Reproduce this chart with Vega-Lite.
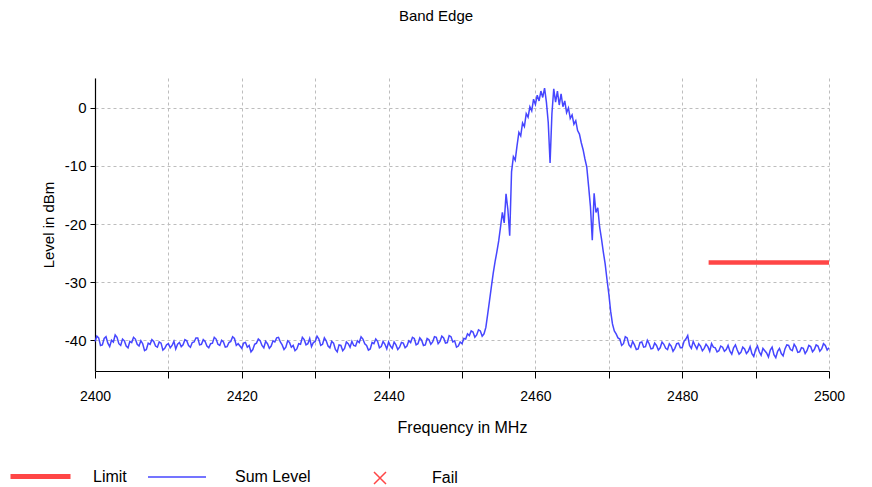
{
  "$schema": "https://vega.github.io/schema/vega-lite/v6.json",
  "width": 734,
  "height": 293,
  "autosize": {"type": "none"},
  "padding": {"left": 95, "top": 78, "right": 43, "bottom": 116},
  "background": "white",
  "title": {"text": "Band Edge", "anchor": "middle", "dx": -26, "offset": 54, "fontSize": 15, "fontWeight": "normal", "font": "Liberation Sans Narrow, Liberation Sans, Arial", "color": "#000000"},
  "config": {
    "view": {"stroke": null},
    "font": "Liberation Sans Narrow, Liberation Sans, Arial",
    "axis": {"domainColor": "#000000", "tickColor": "#000000", "labelColor": "#000000", "titleColor": "#000000", "labelFont": "Liberation Sans Narrow, Liberation Sans, Arial", "titleFont": "Liberation Sans Narrow, Liberation Sans, Arial", "titleFontWeight": "normal", "gridColor": "#bdbdbd", "gridDash": [3, 3], "gridWidth": 1, "domainWidth": 1.2},
    "legend": {"labelFontSize": 16, "labelColor": "#000000", "labelFont": "Liberation Sans Narrow, Liberation Sans, Arial", "padding": 0, "orient": "none"}
  },
  "resolve": {"scale": {"color": "independent"}, "legend": {"color": "independent"}},
  "datasets": {
    "trace": [
      {"f":2400.0,"v":-40.2},{"f":2400.25,"v":-39.3},{"f":2400.5,"v":-39.6},{"f":2400.75,"v":-40.9},{"f":2401.0,"v":-40.8},{"f":2401.25,"v":-39.7},{"f":2401.5,"v":-39.4},{"f":2401.75,"v":-40.5},{"f":2402.0,"v":-41.1},{"f":2402.25,"v":-40.0},
      {"f":2402.5,"v":-40.3},{"f":2402.75,"v":-39.1},{"f":2403.0,"v":-39.5},{"f":2403.25,"v":-40.6},{"f":2403.5,"v":-40.9},{"f":2403.75,"v":-39.8},{"f":2404.0,"v":-40.1},{"f":2404.25,"v":-41.0},{"f":2404.5,"v":-41.3},{"f":2404.75,"v":-40.2},
      {"f":2405.0,"v":-40.4},{"f":2405.25,"v":-39.5},{"f":2405.5,"v":-39.8},{"f":2405.75,"v":-40.7},{"f":2406.0,"v":-41.0},{"f":2406.25,"v":-40.1},{"f":2406.5,"v":-40.6},{"f":2406.75,"v":-41.8},{"f":2407.0,"v":-41.6},{"f":2407.25,"v":-40.5},
      {"f":2407.5,"v":-40.7},{"f":2407.75,"v":-39.9},{"f":2408.0,"v":-40.2},{"f":2408.25,"v":-41.0},{"f":2408.5,"v":-41.2},{"f":2408.75,"v":-40.3},{"f":2409.0,"v":-40.5},{"f":2409.25,"v":-41.7},{"f":2409.5,"v":-41.4},{"f":2409.75,"v":-40.8},
      {"f":2410.0,"v":-40.6},{"f":2410.25,"v":-41.3},{"f":2410.5,"v":-40.9},{"f":2410.75,"v":-40.2},{"f":2411.0,"v":-41.5},{"f":2411.25,"v":-40.7},{"f":2411.5,"v":-40.4},{"f":2411.75,"v":-41.1},{"f":2412.0,"v":-40.8},{"f":2412.25,"v":-39.9},
      {"f":2412.5,"v":-40.1},{"f":2412.75,"v":-40.9},{"f":2413.0,"v":-41.2},{"f":2413.25,"v":-40.4},{"f":2413.5,"v":-40.3},{"f":2413.75,"v":-39.6},{"f":2414.0,"v":-39.6},{"f":2414.25,"v":-40.8},{"f":2414.5,"v":-40.7},{"f":2414.75,"v":-39.9},
      {"f":2415.0,"v":-40.2},{"f":2415.25,"v":-41.0},{"f":2415.5,"v":-41.3},{"f":2415.75,"v":-40.6},{"f":2416.0,"v":-40.5},{"f":2416.25,"v":-39.5},{"f":2416.5,"v":-39.8},{"f":2416.75,"v":-40.7},{"f":2417.0,"v":-40.9},{"f":2417.25,"v":-40.0},
      {"f":2417.5,"v":-40.3},{"f":2417.75,"v":-41.2},{"f":2418.0,"v":-41.1},{"f":2418.25,"v":-40.4},{"f":2418.5,"v":-40.2},{"f":2418.75,"v":-39.4},{"f":2419.0,"v":-39.7},{"f":2419.25,"v":-40.9},{"f":2419.5,"v":-40.6},{"f":2419.75,"v":-41.0},
      {"f":2420.0,"v":-41.4},{"f":2420.25,"v":-40.5},{"f":2420.5,"v":-40.4},{"f":2420.75,"v":-41.2},{"f":2421.0,"v":-40.9},{"f":2421.25,"v":-42.0},{"f":2421.5,"v":-41.6},{"f":2421.75,"v":-40.7},{"f":2422.0,"v":-40.5},{"f":2422.25,"v":-39.8},
      {"f":2422.5,"v":-40.1},{"f":2422.75,"v":-40.9},{"f":2423.0,"v":-41.3},{"f":2423.25,"v":-40.2},{"f":2423.5,"v":-40.6},{"f":2423.75,"v":-41.4},{"f":2424.0,"v":-41.0},{"f":2424.25,"v":-40.1},{"f":2424.5,"v":-40.3},{"f":2424.75,"v":-39.6},
      {"f":2425.0,"v":-39.5},{"f":2425.25,"v":-40.3},{"f":2425.5,"v":-40.8},{"f":2425.75,"v":-41.6},{"f":2426.0,"v":-41.2},{"f":2426.25,"v":-40.1},{"f":2426.5,"v":-40.4},{"f":2426.75,"v":-41.2},{"f":2427.0,"v":-40.9},{"f":2427.25,"v":-41.8},
      {"f":2427.5,"v":-41.5},{"f":2427.75,"v":-40.6},{"f":2428.0,"v":-40.7},{"f":2428.25,"v":-39.5},{"f":2428.5,"v":-39.9},{"f":2428.75,"v":-40.8},{"f":2429.0,"v":-40.6},{"f":2429.25,"v":-39.7},{"f":2429.5,"v":-41.1},{"f":2429.75,"v":-40.4},
      {"f":2430.0,"v":-40.2},{"f":2430.25,"v":-39.3},{"f":2430.5,"v":-39.8},{"f":2430.75,"v":-40.9},{"f":2431.0,"v":-40.7},{"f":2431.25,"v":-39.6},{"f":2431.5,"v":-40.1},{"f":2431.75,"v":-41.0},{"f":2432.0,"v":-41.3},{"f":2432.25,"v":-40.2},
      {"f":2432.5,"v":-40.5},{"f":2432.75,"v":-41.6},{"f":2433.0,"v":-42.0},{"f":2433.25,"v":-40.8},{"f":2433.5,"v":-40.9},{"f":2433.75,"v":-41.8},{"f":2434.0,"v":-41.4},{"f":2434.25,"v":-40.3},{"f":2434.5,"v":-40.6},{"f":2434.75,"v":-41.2},
      {"f":2435.0,"v":-40.2},{"f":2435.25,"v":-40.9},{"f":2435.5,"v":-41.0},{"f":2435.75,"v":-40.1},{"f":2436.0,"v":-40.4},{"f":2436.25,"v":-39.4},{"f":2436.5,"v":-39.8},{"f":2436.75,"v":-40.6},{"f":2437.0,"v":-40.9},{"f":2437.25,"v":-41.7},
      {"f":2437.5,"v":-41.5},{"f":2437.75,"v":-40.4},{"f":2438.0,"v":-40.6},{"f":2438.25,"v":-39.8},{"f":2438.5,"v":-40.2},{"f":2438.75,"v":-41.3},{"f":2439.0,"v":-41.1},{"f":2439.25,"v":-40.2},{"f":2439.5,"v":-40.7},{"f":2439.75,"v":-41.5},
      {"f":2440.0,"v":-40.3},{"f":2440.25,"v":-41.0},{"f":2440.5,"v":-41.4},{"f":2440.75,"v":-40.3},{"f":2441.0,"v":-40.8},{"f":2441.25,"v":-41.6},{"f":2441.5,"v":-41.2},{"f":2441.75,"v":-40.4},{"f":2442.0,"v":-40.5},{"f":2442.25,"v":-41.3},
      {"f":2442.5,"v":-41.0},{"f":2442.75,"v":-40.1},{"f":2443.0,"v":-40.4},{"f":2443.25,"v":-39.5},{"f":2443.5,"v":-39.7},{"f":2443.75,"v":-40.8},{"f":2444.0,"v":-40.6},{"f":2444.25,"v":-39.6},{"f":2444.5,"v":-40.0},{"f":2444.75,"v":-40.9},
      {"f":2445.0,"v":-40.8},{"f":2445.25,"v":-39.7},{"f":2445.5,"v":-39.9},{"f":2445.75,"v":-40.7},{"f":2446.0,"v":-40.3},{"f":2446.25,"v":-39.4},{"f":2446.5,"v":-39.5},{"f":2446.75,"v":-40.6},{"f":2447.0,"v":-40.2},{"f":2447.25,"v":-39.3},
      {"f":2447.5,"v":-39.6},{"f":2447.75,"v":-40.5},{"f":2448.0,"v":-40.4},{"f":2448.25,"v":-39.2},{"f":2448.5,"v":-39.4},{"f":2448.75,"v":-40.3},{"f":2449.0,"v":-40.1},{"f":2449.25,"v":-41.2},{"f":2449.5,"v":-41.0},{"f":2449.75,"v":-40.3},
      {"f":2450.0,"v":-40.6},{"f":2450.25,"v":-39.7},{"f":2450.5,"v":-39.8},{"f":2450.75,"v":-38.9},{"f":2451.0,"v":-39.2},{"f":2451.25,"v":-38.4},{"f":2451.5,"v":-38.6},{"f":2451.75,"v":-39.5},{"f":2452.0,"v":-39.1},{"f":2452.25,"v":-38.2},
      {"f":2452.5,"v":-38.4},{"f":2452.75,"v":-39.3},
      {"f":2453.0,"v":-38.9},{"f":2453.25,"v":-37.8},{"f":2453.5,"v":-35.5},{"f":2453.75,"v":-33.2},
      {"f":2454.0,"v":-30.8},{"f":2454.25,"v":-28.5},{"f":2454.5,"v":-26.5},{"f":2454.75,"v":-24.8},{"f":2455.0,"v":-22.9},{"f":2455.25,"v":-20.5},{"f":2455.5,"v":-18.0},{"f":2455.75,"v":-19.8},{"f":2456.0,"v":-14.8},{"f":2456.25,"v":-17.5},
      {"f":2456.5,"v":-22.0},{"f":2456.75,"v":-11.0},{"f":2457.0,"v":-8.4},{"f":2457.25,"v":-9.0},{"f":2457.5,"v":-6.5},{"f":2457.75,"v":-4.2},{"f":2458.0,"v":-4.8},{"f":2458.25,"v":-2.6},{"f":2458.5,"v":-3.2},{"f":2458.75,"v":-1.0},
      {"f":2459.0,"v":-1.6},{"f":2459.25,"v":0.2},{"f":2459.5,"v":-0.5},{"f":2459.75,"v":1.5},{"f":2460.0,"v":0.6},{"f":2460.25,"v":2.2},{"f":2460.5,"v":1.2},{"f":2460.75,"v":2.9},{"f":2461.0,"v":1.8},{"f":2461.25,"v":3.4},
      {"f":2461.5,"v":1.0},{"f":2461.75,"v":-2.5},{"f":2462.0,"v":-9.5},{"f":2462.25,"v":-1.0},{"f":2462.5,"v":3.3},{"f":2462.75,"v":1.0},{"f":2463.0,"v":2.9},{"f":2463.25,"v":0.5},{"f":2463.5,"v":2.4},{"f":2463.75,"v":0.2},
      {"f":2464.0,"v":1.2},{"f":2464.25,"v":-0.8},{"f":2464.5,"v":0.0},{"f":2464.75,"v":-1.8},{"f":2465.0,"v":-1.2},{"f":2465.25,"v":-2.8},{"f":2465.5,"v":-2.2},{"f":2465.75,"v":-3.9},{"f":2466.0,"v":-4.5},{"f":2466.25,"v":-6.0},
      {"f":2466.5,"v":-7.2},{"f":2466.75,"v":-8.8},{"f":2467.0,"v":-10.2},{"f":2467.25,"v":-13.5},{"f":2467.5,"v":-17.0},{"f":2467.75,"v":-22.8},{"f":2468.0,"v":-14.7},{"f":2468.25,"v":-18.0},{"f":2468.5,"v":-17.2},{"f":2468.75,"v":-20.5},
      {"f":2469.0,"v":-22.5},{"f":2469.25,"v":-24.8},{"f":2469.5,"v":-26.8},{"f":2469.75,"v":-29.5},{"f":2470.0,"v":-32.0},{"f":2470.25,"v":-35.0},{"f":2470.5,"v":-37.2},{"f":2470.75,"v":-38.4},{"f":2471.0,"v":-38.9},
      {"f":2471.25,"v":-39.6},{"f":2471.5,"v":-39.8},{"f":2471.75,"v":-40.9},
      {"f":2472.0,"v":-40.6},{"f":2472.25,"v":-39.4},{"f":2472.5,"v":-39.6},{"f":2472.75,"v":-40.8},{"f":2473.0,"v":-41.2},{"f":2473.25,"v":-40.2},{"f":2473.5,"v":-40.8},{"f":2473.75,"v":-41.6},{"f":2474.0,"v":-41.5},{"f":2474.25,"v":-40.4},
      {"f":2474.5,"v":-40.3},{"f":2474.75,"v":-41.2},{"f":2475.0,"v":-41.1},{"f":2475.25,"v":-40.0},{"f":2475.5,"v":-40.6},{"f":2475.75,"v":-41.5},{"f":2476.0,"v":-41.4},{"f":2476.25,"v":-40.5},{"f":2476.5,"v":-40.9},{"f":2476.75,"v":-41.7},
      {"f":2477.0,"v":-41.3},{"f":2477.25,"v":-40.3},{"f":2477.5,"v":-40.7},{"f":2477.75,"v":-41.4},{"f":2478.0,"v":-41.6},{"f":2478.25,"v":-40.6},{"f":2478.5,"v":-41.0},{"f":2478.75,"v":-41.9},{"f":2479.0,"v":-41.4},{"f":2479.25,"v":-40.6},
      {"f":2479.5,"v":-40.5},{"f":2479.75,"v":-41.3},{"f":2480.0,"v":-41.3},{"f":2480.25,"v":-40.2},{"f":2480.5,"v":-39.8},{"f":2480.75,"v":-39.2},{"f":2481.0,"v":-40.9},{"f":2481.25,"v":-41.4},{"f":2481.5,"v":-40.2},{"f":2481.75,"v":-40.9},
      {"f":2482.0,"v":-41.5},{"f":2482.25,"v":-40.6},{"f":2482.5,"v":-41.0},{"f":2482.75,"v":-41.8},{"f":2483.0,"v":-41.4},{"f":2483.25,"v":-40.7},{"f":2483.5,"v":-41.1},{"f":2483.75,"v":-41.9},{"f":2484.0,"v":-40.6},{"f":2484.25,"v":-41.2},
      {"f":2484.5,"v":-41.3},{"f":2484.75,"v":-42.0},{"f":2485.0,"v":-41.8},{"f":2485.25,"v":-41.0},{"f":2485.5,"v":-41.2},{"f":2485.75,"v":-41.9},{"f":2486.0,"v":-41.6},{"f":2486.25,"v":-40.9},{"f":2486.5,"v":-41.9},{"f":2486.75,"v":-42.4},
      {"f":2487.0,"v":-41.3},{"f":2487.25,"v":-40.8},{"f":2487.5,"v":-41.7},{"f":2487.75,"v":-42.4},{"f":2488.0,"v":-42.1},{"f":2488.25,"v":-41.2},{"f":2488.5,"v":-41.5},{"f":2488.75,"v":-42.3},{"f":2489.0,"v":-41.9},{"f":2489.25,"v":-41.1},
      {"f":2489.5,"v":-42.3},{"f":2489.75,"v":-42.8},{"f":2490.0,"v":-41.6},{"f":2490.25,"v":-41.0},{"f":2490.5,"v":-42.0},{"f":2490.75,"v":-42.6},{"f":2491.0,"v":-41.4},{"f":2491.25,"v":-41.8},{"f":2491.5,"v":-42.2},{"f":2491.75,"v":-42.9},
      {"f":2492.0,"v":-41.7},{"f":2492.25,"v":-41.2},{"f":2492.5,"v":-42.5},{"f":2492.75,"v":-43.0},{"f":2493.0,"v":-41.9},{"f":2493.25,"v":-41.4},{"f":2493.5,"v":-42.3},{"f":2493.75,"v":-42.7},{"f":2494.0,"v":-41.5},{"f":2494.25,"v":-40.8},
      {"f":2494.5,"v":-40.9},{"f":2494.75,"v":-41.6},{"f":2495.0,"v":-41.8},{"f":2495.25,"v":-40.7},{"f":2495.5,"v":-41.2},{"f":2495.75,"v":-42.1},{"f":2496.0,"v":-42.0},{"f":2496.25,"v":-41.3},{"f":2496.5,"v":-41.4},{"f":2496.75,"v":-42.3},
      {"f":2497.0,"v":-41.8},{"f":2497.25,"v":-40.9},{"f":2497.5,"v":-41.1},{"f":2497.75,"v":-42.0},{"f":2498.0,"v":-41.6},{"f":2498.25,"v":-40.8},{"f":2498.5,"v":-41.0},{"f":2498.75,"v":-41.9},{"f":2499.0,"v":-41.5},{"f":2499.25,"v":-40.6},
      {"f":2499.5,"v":-40.9},{"f":2499.75,"v":-41.7},{"f":2500.0,"v":-41.3}
    ],
    "limit": [
      {"f": 2483.6, "v": -26.6},
      {"f": 2500.0, "v": -26.6}
    ],
    "fail": []
  },
  "layer": [
    {
      "data": {"name": "trace"},
      "mark": {"type": "line", "strokeWidth": 1.5, "opacity": 0.95},
      "encoding": {
        "x": {
          "field": "f", "type": "quantitative",
          "scale": {"domain": [2400, 2500], "nice": false, "zero": false},
          "axis": {
            "title": "Frequency in MHz", "titleFontSize": 16, "titlePadding": 16,
            "values": [2400, 2410, 2420, 2430, 2440, 2450, 2460, 2470, 2480, 2490, 2500],
            "labelExpr": "datum.value % 20 === 0 ? '' + datum.value : ''",
            "labelFontSize": 14, "labelPadding": 11, "tickSize": 7, "grid": true, "labelFlush": false, "labelOverlap": false
          }
        },
        "y": {
          "field": "v", "type": "quantitative",
          "scale": {"domain": [-45.3, 5.15], "nice": false, "zero": false},
          "axis": {
            "title": "Level in dBm", "titleFontSize": 15, "titlePadding": 8,
            "values": [5, 0, -5, -10, -15, -20, -25, -30, -35, -40],
            "labelExpr": "(datum.value % 10 === 0 || datum.value > 4) ? '' + datum.value : ''",
            "labelFontSize": 15, "labelPadding": 4, "tickSize": 5, "grid": true, "labelOverlap": false, "labelFlush": false, "labelBound": false
          }
        },
        "color": {
          "datum": "Sum Level",
          "scale": {"domain": ["Sum Level"], "range": ["#3c3cff"]},
          "legend": {
            "title": null, "orient": "none", "legendX": 52, "legendY": 369,
            "symbolType": "stroke", "symbolSize": 3364, "symbolStrokeWidth": 1.5,
            "labelOffset": 28, "padding": 0
          }
        }
      }
    },
    {
      "data": {"name": "limit"},
      "mark": {"type": "line", "strokeWidth": 4.5},
      "encoding": {
        "x": {"field": "f", "type": "quantitative"},
        "y": {"field": "v", "type": "quantitative"},
        "color": {
          "datum": "Limit",
          "scale": {"domain": ["Limit"], "range": ["#ff4646"]},
          "legend": {
            "title": null, "orient": "none", "legendX": -87, "legendY": 366,
            "symbolType": "stroke", "symbolSize": 3600, "symbolStrokeWidth": 5,
            "labelOffset": 20, "padding": 0
          }
        }
      }
    },
    {
      "data": {"name": "fail"},
      "mark": {"type": "point", "filled": false, "color": "#ff4646", "size": 144, "strokeWidth": 1.5, "opacity": 1},
      "encoding": {
        "x": {"field": "f", "type": "quantitative"},
        "y": {"field": "v", "type": "quantitative"},
        "shape": {
          "datum": "Fail",
          "scale": {"domain": ["Fail"], "range": ["M-1,-1L1,1M1,-1L-1,1"]},
          "legend": {
            "title": null, "orient": "none", "legendX": 277, "legendY": 392,
            "symbolSize": 144, "symbolStrokeWidth": 1.5, "symbolStrokeColor": "#ff4646", "symbolFillColor": "transparent", "symbolOpacity": 1,
            "labelOffset": 44, "padding": 0
          }
        }
      }
    }
  ]
}
